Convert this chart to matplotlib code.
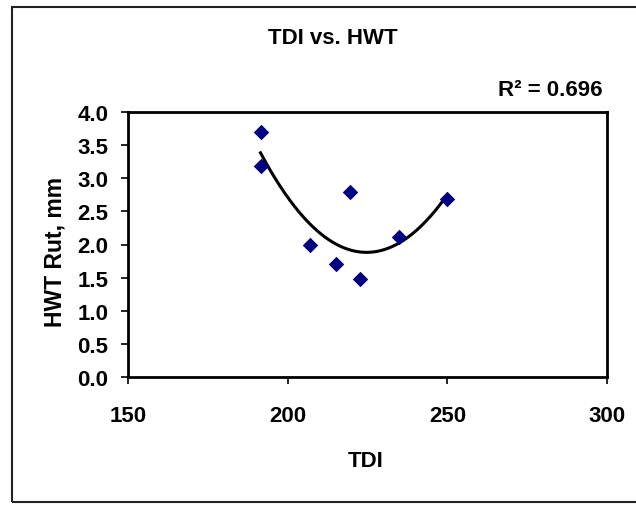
import numpy as np
import matplotlib
matplotlib.use("Agg")
import matplotlib.pyplot as plt
from matplotlib.patches import Rectangle

plt.rcParams['font.family'] = ['Liberation Sans', 'DejaVu Sans']
FS = 16

tdi = [191.5, 191.5, 207, 215, 219.5, 222.5, 235, 250]
hwt = [3.70, 3.19, 2.00, 1.70, 2.80, 1.48, 2.11, 2.69]
xticks = [150, 200, 250, 300]
yticks = [0.0, 0.5, 1.0, 1.5, 2.0, 2.5, 3.0, 3.5, 4.0]
title = "TDI vs. HWT"
r2_text = "R² = 0.696"

W, H = 636, 506
fig = plt.figure(figsize=(W/100, H/100), dpi=100)
fig.patch.set_facecolor('white')

# chart border
fig.add_artist(Rectangle((12/W, 1-503/H), 700/W, (503-8)/H, transform=fig.transFigure,
                         fill=False, edgecolor='#222222', linewidth=1.5))

ax = fig.add_axes([128/W, 1-378/H, (607-128)/W, (378-113)/H])
coef = np.polyfit(tdi, hwt, 2)
xs = np.linspace(min(tdi), max(tdi), 200)
ax.plot(xs, np.polyval(coef, xs), color='black', linewidth=2.2, zorder=2)
ax.scatter(tdi, hwt, marker='D', s=62, color='#000080', zorder=3, linewidths=0)

ax.set_xlim(150, 300)
ax.set_ylim(0, 4.0)
ax.set_xticks(xticks)
ax.set_yticks(yticks)
ax.set_xticklabels([str(v) for v in xticks], fontsize=FS, fontweight='bold')
ax.set_yticklabels([f"{v:.1f}" for v in yticks], fontsize=FS, fontweight='bold')
ax.tick_params(direction='out', length=5, width=1.2)
ax.tick_params(axis='y', pad=9)
ax.tick_params(axis='x', pad=15)
for s in ax.spines.values():
    s.set_linewidth(2)

ax.set_xlabel("TDI", fontsize=FS, fontweight='bold', va='center')
ax.xaxis.set_label_coords(366/W, 1-462/H, transform=fig.transFigure)
ax.set_ylabel("HWT Rut, mm", fontsize=FS + 0.5, fontweight='bold', va='center')
ax.yaxis.set_label_coords(55/W, 1-252/H, transform=fig.transFigure)

fig.text(333/W, 1-38/H, title, ha='center', va='center', fontsize=FS, fontweight='bold')
fig.text(603/W, 1-90/H, r2_text, ha='right', va='center', fontsize=FS, fontweight='bold')

fig.savefig("out.png", dpi=100)
